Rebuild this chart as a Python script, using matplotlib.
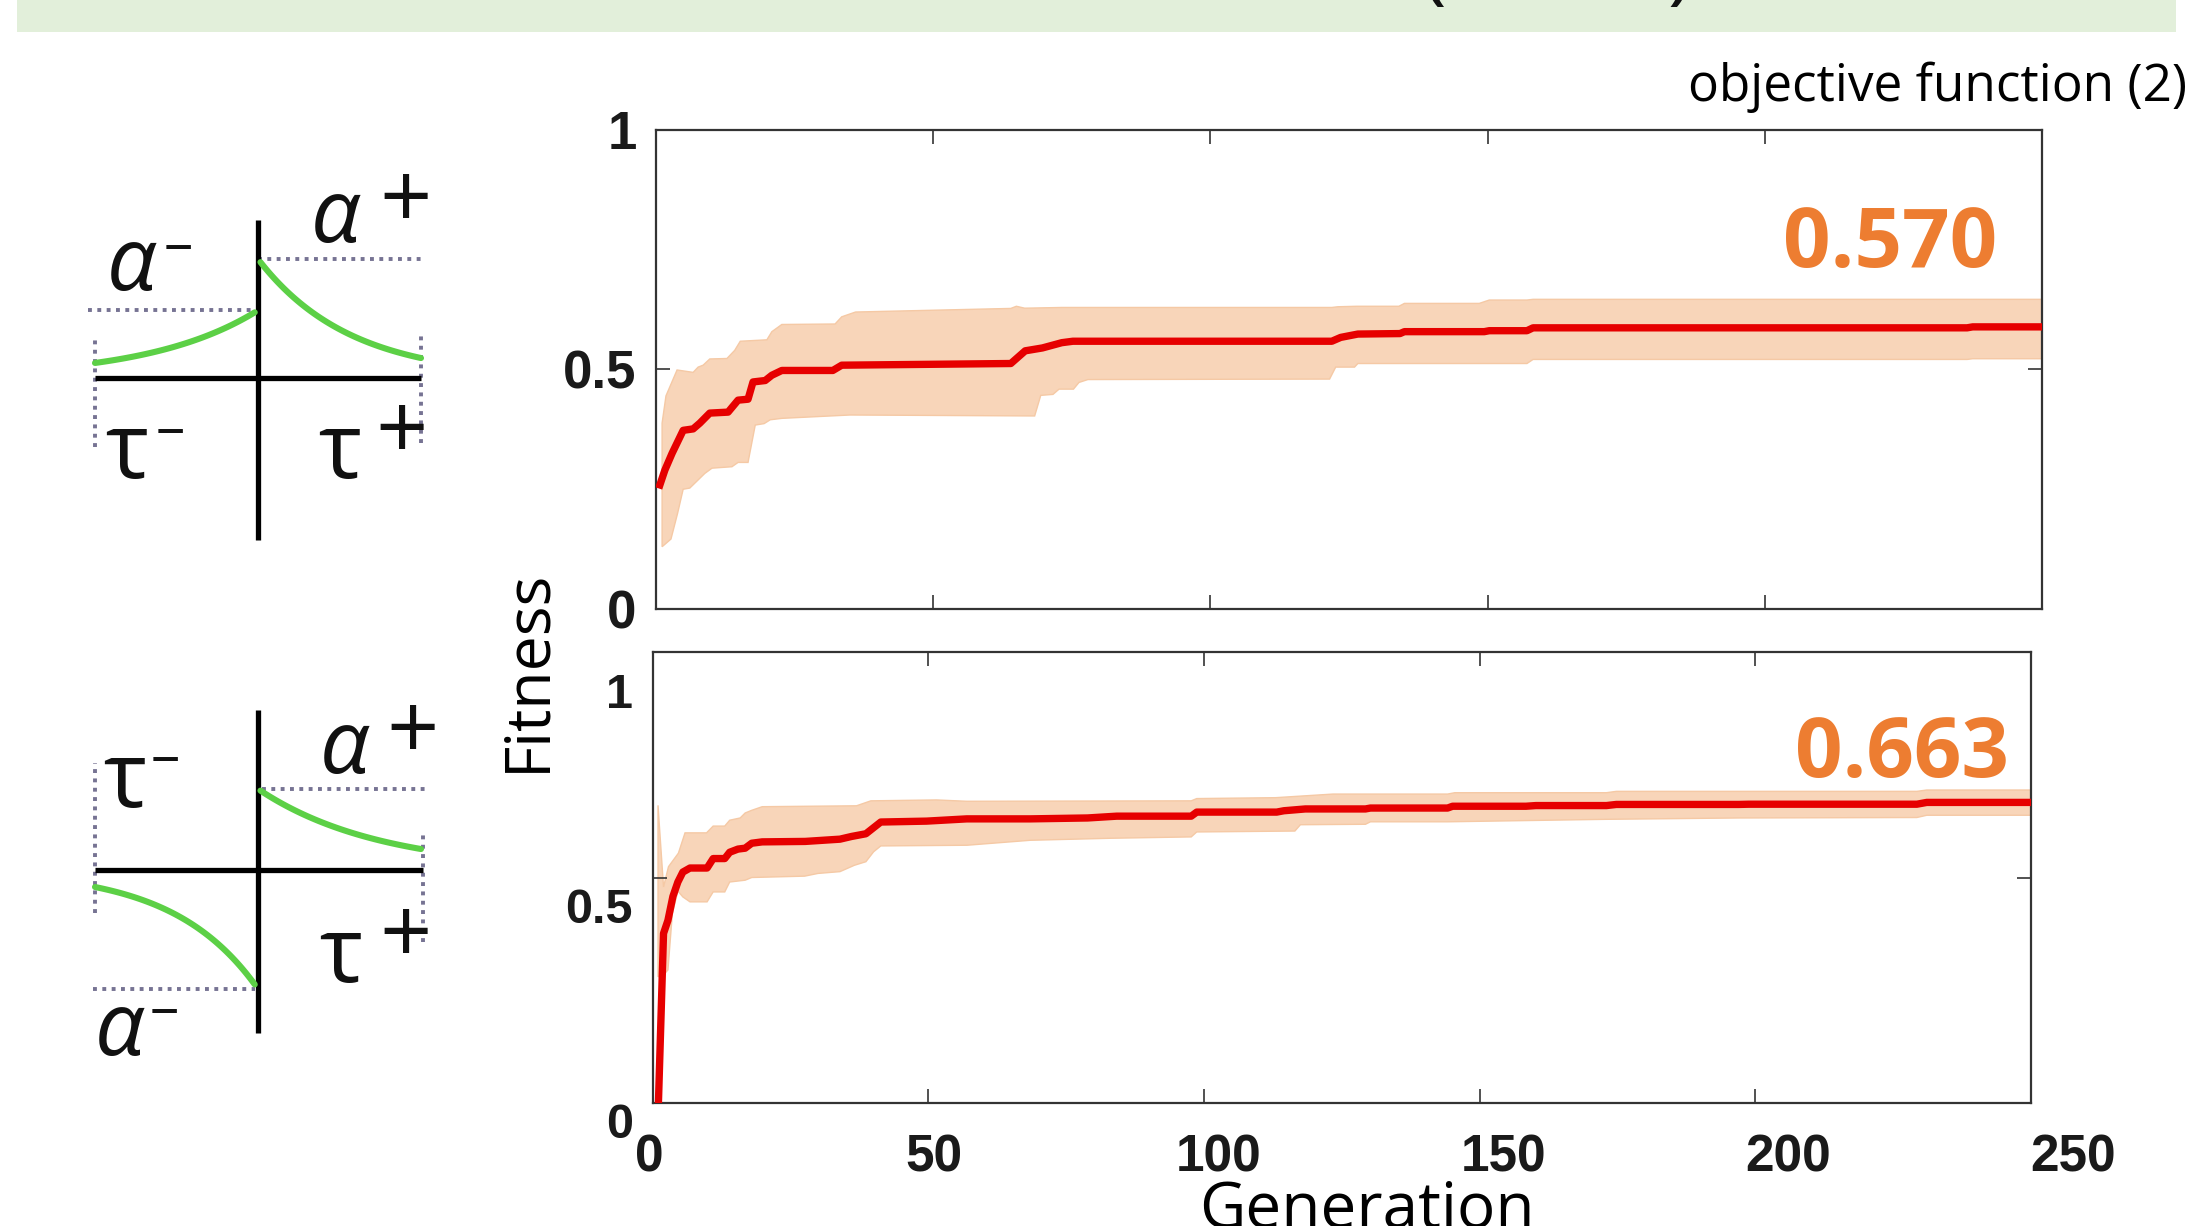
import numpy as np
import matplotlib
matplotlib.use("Agg")
import matplotlib.pyplot as plt
from matplotlib.patches import Rectangle

# ---------------- data ----------------
gen_ticks = [0, 50, 100, 150, 200, 250]
fit_ticks = [0, 0.5, 1]
fit_ticklabels = ["0", "0.5", "1"]
gen_ticklabels = ["0", "50", "100", "150", "200", "250"]

# top panel (objective function, symmetric-positive STDP)
top_mean_gen = [0.7, 1.6, 2.9, 4.9, 6.7, 7.9, 9.7, 13.0, 14.8, 16.6, 17.5, 19.7, 20.9, 22.7,
                31.9, 33.5, 64.0, 66.6, 69.7, 73.2, 75.2, 121.9, 123.5, 126.6, 134.2, 135.0,
                149.4, 150.3, 157.1, 158.2, 236.5, 237.5, 250]
top_mean = [0.259, 0.290, 0.325, 0.373, 0.376, 0.388, 0.409, 0.411, 0.436, 0.438, 0.474, 0.477,
            0.488, 0.498, 0.498, 0.509, 0.5125, 0.539, 0.545, 0.556, 0.559, 0.559, 0.567, 0.574,
            0.575, 0.579, 0.579, 0.581, 0.581, 0.587, 0.587, 0.589, 0.589]
top_upper_gen = [1.1, 1.8, 3.8, 6.7, 7.6, 8.5, 9.7, 12.8, 14.2, 15.2, 20.0, 20.9, 22.7, 32.3,
                 33.5, 36.0, 64.0, 65.0, 66.5, 73.2, 121.9, 123.0, 126.4, 134.0, 135.0, 148.5,
                 150.3, 157.1, 158.2, 250]
top_upper = [0.388, 0.445, 0.499, 0.494, 0.505, 0.509, 0.522, 0.523, 0.540, 0.559, 0.562, 0.579,
             0.594, 0.595, 0.610, 0.620, 0.6275, 0.632, 0.628, 0.6295, 0.6295, 0.631, 0.632,
             0.632, 0.638, 0.638, 0.645, 0.645, 0.6465, 0.6465]
top_lower_gen = [1.1, 2.7, 3.9, 4.9, 6.1, 8.8, 10.1, 13.7, 14.8, 16.6, 17.9, 19.5, 20.6, 22.7,
                 35.0, 68.3, 69.4, 71.6, 72.7, 75.3, 76.3, 77.9, 121.5, 122.6, 126.0, 126.6,
                 157.1, 158.2, 236.5, 237.5, 250]
top_lower = [0.130, 0.146, 0.200, 0.250, 0.2525, 0.283, 0.294, 0.297, 0.306, 0.306, 0.384, 0.387,
             0.395, 0.398, 0.405, 0.403, 0.446, 0.448, 0.459, 0.459, 0.473, 0.479, 0.480, 0.505,
             0.505, 0.5125, 0.5125, 0.521, 0.521, 0.5225, 0.5225]
top_best = "0.570"

# bottom panel (anti-symmetric STDP)
bot_mean_gen = [1.0, 2.0, 2.8, 3.7, 4.6, 5.5, 6.8, 9.9, 11.0, 13.1, 14.0, 15.5, 16.8, 18.0, 19.9,
                27.7, 34.0, 36.1, 38.7, 41.4, 49.7, 57.0, 68.5, 78.9, 84.2, 97.7, 98.7, 113.2,
                114.5, 118.4, 129.3, 130.2, 144.2, 145.1, 158.4, 160.2, 173.0, 174.8, 197.0,
                198.8, 229.3, 231.1, 250]
bot_mean = [-0.03, 0.376, 0.405, 0.458, 0.490, 0.512, 0.521, 0.521, 0.542, 0.542, 0.556, 0.563,
            0.565, 0.576, 0.579, 0.580, 0.585, 0.591, 0.597, 0.623, 0.625, 0.630, 0.630, 0.632,
            0.636, 0.636, 0.645, 0.645, 0.648, 0.652, 0.652, 0.654, 0.654, 0.658, 0.658, 0.6595,
            0.6595, 0.662, 0.662, 0.6625, 0.6625, 0.6665, 0.6665]
bot_upper_gen = [1.0, 2.0, 2.9, 4.7, 5.9, 9.8, 11.0, 13.1, 14.0, 15.9, 16.8, 18.0, 19.9, 37.0,
                 39.6, 51.5, 57.0, 97.7, 98.7, 113.0, 123.4, 144.2, 145.5, 173.0, 174.8, 229.3,
                 231.1, 250]
bot_upper = [0.66, 0.479, 0.524, 0.554, 0.599, 0.599, 0.614, 0.614, 0.627, 0.632, 0.643, 0.649,
             0.657, 0.659, 0.670, 0.672, 0.669, 0.670, 0.675, 0.677, 0.685, 0.685, 0.688, 0.688,
             0.691, 0.691, 0.694, 0.694]
bot_lower_gen = [1.0, 2.0, 2.8, 3.6, 4.6, 5.5, 6.8, 9.9, 11.0, 13.1, 14.0, 16.8, 18.0, 27.6, 30.0,
                 34.0, 36.6, 38.7, 40.1, 41.4, 57.0, 68.5, 83.1, 97.7, 98.7, 116.5, 117.5, 129.3,
                 130.2, 144.2, 173.0, 197.0, 229.3, 231.1, 250]
bot_lower = [0.28, 0.284, 0.295, 0.420, 0.470, 0.457, 0.446, 0.446, 0.468, 0.468, 0.490, 0.494,
             0.500, 0.503, 0.509, 0.513, 0.527, 0.535, 0.557, 0.570, 0.5715, 0.5825, 0.587, 0.590,
             0.601, 0.603, 0.617, 0.618, 0.6235, 0.6235, 0.629, 0.632, 0.633, 0.638, 0.638]
bot_best = "0.663"

# STDP schematic parameters (amplitude alpha, time constant tau), window t in [-1, 1]
top_alpha_plus, top_tau_plus = 0.73, 0.56
top_alpha_minus, top_tau_minus = 0.415, 0.665
bot_alpha_plus, bot_tau_plus = 0.497, 0.74
bot_alpha_minus, bot_tau_minus = -0.73, 0.514

# ---------------- style ----------------
W, H = 2190, 1226
DPI = 100
RED = "#E60000"
BAND = "#F8D5B9"
BAND_EDGE = "#F5C9A5"
ORANGE = "#ED7D31"
GREEN = "#5CD046"
DOT = "#5E5A80"
TICKFONT = ["Liberation Sans", "DejaVu Sans"]
TEXTFONT = ["Open Sans", "DejaVu Sans"]

fig = plt.figure(figsize=(W / DPI, H / DPI), dpi=DPI)


def rect(x0, y0, x1, y1):
    return [x0 / W, 1 - y1 / H, (x1 - x0) / W, (y1 - y0) / H]


def ftext(x, y, s, **kw):
    return fig.text(x / W, 1 - y / H, s, **kw)


# title band (slide header, mostly cropped)
fig.add_artist(Rectangle((17 / W, 1 - 32 / H), (2176 - 17) / W, 32 / H,
                         transform=fig.transFigure, facecolor="#E2EFDA",
                         edgecolor="none", zorder=0))
ftext(1434, -6, "(", fontsize=60, family=TEXTFONT, ha="center", va="baseline", color="#111")
ftext(1680, -6, ")", fontsize=60, family=TEXTFONT, ha="center", va="baseline", color="#111")

ftext(2187, 101, "objective function (2)", fontsize=37, family=TEXTFONT,
      ha="right", va="baseline", color="black")

# ---------------- fitness panels ----------------
ax1 = fig.add_axes(rect(656, 130, 2042, 609))
ax2 = fig.add_axes(rect(652.5, 652, 2031, 1103))

for ax, mg, m, ug, u, lg, lo in (
        (ax1, top_mean_gen, top_mean, top_upper_gen, top_upper, top_lower_gen, top_lower),
        (ax2, bot_mean_gen, bot_mean, bot_upper_gen, bot_upper, bot_lower_gen, bot_lower)):
    ax.fill(np.r_[ug, lg[::-1]], np.r_[u, lo[::-1]], facecolor=BAND,
            edgecolor=BAND_EDGE, lw=1.0, zorder=1)
    ax.plot(mg, m, color=RED, lw=5.3, solid_joinstyle="round", zorder=3)
    ax.set_xlim(0, 250)
    ax.set_ylim(0, 1)
    ax.set_xticks(gen_ticks)
    ax.set_yticks(fit_ticks)
    ax.set_xticklabels([])
    ax.tick_params(direction="in", top=True, right=True, length=10, width=1.2,
                   color="#333333")
    for sp in ax.spines.values():
        sp.set_linewidth(1.6)
        sp.set_color("#333333")

ax1.set_yticklabels(fit_ticklabels, fontsize=38, fontweight="bold", family=TICKFONT,
                    color="#1a1a1a")
ax1.tick_params(axis="y", pad=14)
ax2.set_yticklabels([])

ax1.text(0.968, 0.713, top_best, transform=ax1.transAxes, fontsize=60, fontweight="bold",
         family=TEXTFONT, color=ORANGE, ha="right", va="baseline")
ax2.text(0.984, 0.722, bot_best, transform=ax2.transAxes, fontsize=60, fontweight="bold",
         family=TEXTFONT, color=ORANGE, ha="right", va="baseline")

# tick labels of the lower panel (pasted slightly offset in the original figure)
axl = fig.add_axes(rect(649, 691, 2073, 1120))
axl.set_xlim(0, 250)
axl.set_ylim(0, 1)
axl.set_frame_on(False)
axl.patch.set_alpha(0)
axl.set_xticks(gen_ticks)
axl.set_xticklabels(gen_ticklabels, fontsize=37, fontweight="bold", family=TICKFONT,
                    color="#1a1a1a")
axl.set_yticks(fit_ticks)
axl.set_yticklabels(fit_ticklabels, fontsize=35, fontweight="bold", family=TICKFONT,
                    color="#1a1a1a")
axl.tick_params(axis="x", length=0, pad=10)
axl.tick_params(axis="y", length=0, pad=11.5)

ftext(528, 670, "Fitness", fontsize=45, family=TEXTFONT, rotation=90,
      ha="center", va="center", color="black")
ftext(1367, 1228, "Generation", fontsize=46, family=TEXTFONT, ha="center",
      va="baseline", color="black")

# ---------------- STDP schematics ----------------
def schematic(box, origin, a_p, tau_p, a_m, tau_m, vline, hline, dots):
    x0, y0, x1, y1 = box
    ox, oy = origin
    s = 163.0
    ax = fig.add_axes(rect(x0, y0, x1, y1))
    ax.set_xlim((x0 - ox) / s, (x1 - ox) / s)
    ax.set_ylim((oy - y1) / s, (oy - y0) / s)
    ax.axis("off")
    dotkw = dict(color=DOT, lw=2.8, linestyle=(0, (1.0, 1.4)), zorder=1, alpha=0.85)
    for (xs, ys) in dots:
        ax.plot(xs, ys, **dotkw)
    ax.plot([0, 0], vline, color="black", lw=3.8, solid_capstyle="butt", zorder=2)
    ax.plot(hline, [0, 0], color="black", lw=3.8, solid_capstyle="butt", zorder=2)
    tr = np.linspace(0.015, 1.0, 120)
    tl = np.linspace(-1.0, -0.02, 120)
    ax.plot(tr, a_p * np.exp(-tr / tau_p), color=GREEN, lw=4.4, zorder=3,
            solid_capstyle="round")
    ax.plot(tl, a_m * np.exp(tl / tau_m), color=GREEN, lw=4.4, zorder=3,
            solid_capstyle="round")
    return ax


schematic((40, 150, 480, 560), (258, 378), top_alpha_plus, top_tau_plus,
          top_alpha_minus, top_tau_minus, [-0.994, 0.969], [-1.0, 1.0],
          [([0.0, 1.01], [top_alpha_plus] * 2),
           ([-1.04, -0.02], [top_alpha_minus] * 2),
           ([-1.0, -1.0], [-0.423, 0.233]),
           ([1.0, 1.0], [-0.399, 0.282])])
schematic((40, 680, 480, 1100), (258, 870), bot_alpha_plus, bot_tau_plus,
          bot_alpha_minus, bot_tau_minus, [-1.0, 0.982], [-1.0, 1.012],
          [([0.025, 1.055], [bot_alpha_plus] * 2),
           ([-1.012, -0.02], [bot_alpha_minus] * 2),
           ([-1.0, -1.0], [-0.264, 0.656]),
           ([1.012, 1.012], [-0.442, 0.245])])

ALPHA_SIZE = 63
TAU_SIZE = 66
PLUS = 66
DASH = 42


def greek(x, base, ch):
    ftext(x, base, ch, fontsize=ALPHA_SIZE if ch == "α" else TAU_SIZE, family=TEXTFONT,
          style="italic" if ch == "α" else "normal", ha="center", va="baseline",
          color="#111111")


def sup(x, cy, ch):
    size = PLUS if ch == "+" else DASH
    em = size * DPI / 72.0
    off = 0.35 if ch == "+" else 0.27
    ftext(x, cy + off * em, ch, fontsize=size, family=TEXTFONT, ha="center",
          va="baseline", color="#111111")


# top schematic labels
greek(132, 290, "α"); sup(178, 247, "–")
greek(336, 242, "α"); sup(406, 196, "+")
greek(127, 478, "τ"); sup(170, 431, "–")
greek(340, 478, "τ"); sup(402, 427, "+")
# bottom schematic labels
greek(125, 807, "τ"); sup(165, 759, "–")
greek(345, 773, "α"); sup(413, 727, "+")
greek(341, 982, "τ"); sup(406, 931, "+")
greek(120, 1055, "α"); sup(164, 1011, "–")

fig.savefig("out.png", dpi=DPI)
